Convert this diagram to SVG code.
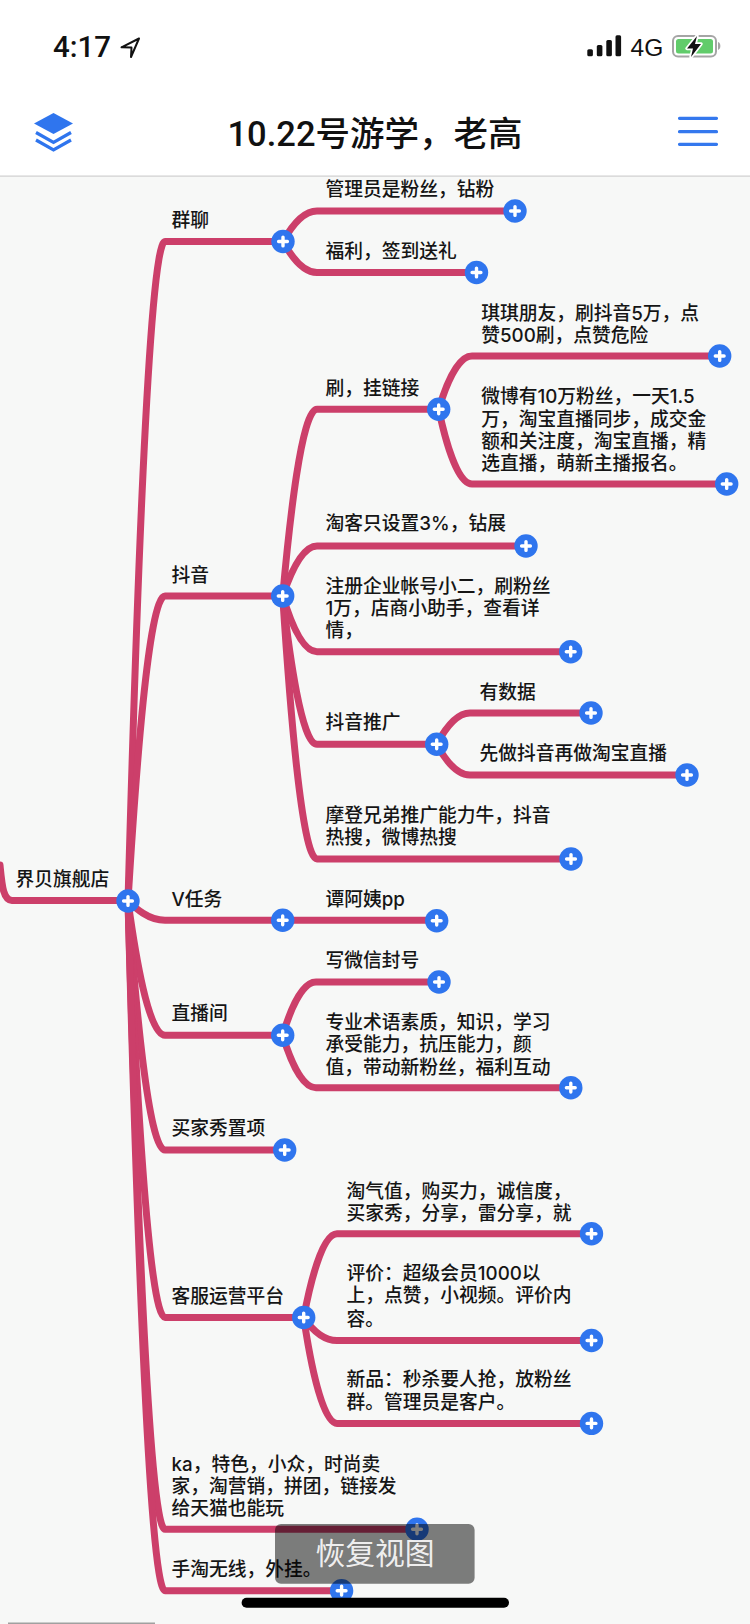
<svg xmlns="http://www.w3.org/2000/svg" width="750" height="1624" viewBox="0 0 750 1624">
<style>
.t{font-family:"Inter","Noto Sans CJK SC",sans-serif;font-size:18.75px;font-weight:500;fill:#151515}
.l{fill:none;stroke:#cc3f6a;stroke-width:7;stroke-linecap:round;stroke-linejoin:round}
.b{fill:#2f75ee}
.h{fill:none;stroke:#3478ee;stroke-width:3.2;stroke-linecap:round}
</style>
<defs>
<g id="plus"><circle r="11.7" fill="#2f75ee"/><path d="M-4.4 0H4.4M0-4.400V4.400" stroke="#fff" stroke-width="3.400" stroke-linecap="round" fill="none"/></g>
</defs>
<rect width="750" height="1624" fill="#f7f8f7"/>
<rect width="750" height="176" fill="#fff"/>
<rect y="175.500" width="750" height="1.200" fill="#cfcfcf"/>
<g id="status">
<text x="53" y="56.700" font-family="Roboto,sans-serif" font-size="29.500" font-weight="500" fill="#111">4:17</text>
<path d="M139 38.500L121.500 47.300L131.500 47.600L131 57Z" fill="#fff" stroke="#111" stroke-width="2" stroke-linejoin="round"/>
<rect x="587.300" y="49.300" width="5.600" height="6.900" rx="1.500" fill="#111"/>
<rect x="596.800" y="45" width="5.600" height="11.200" rx="1.500" fill="#111"/>
<rect x="606.300" y="40" width="5.600" height="16.200" rx="1.500" fill="#111"/>
<rect x="615.500" y="35.300" width="5.600" height="20.900" rx="1.500" fill="#111"/>
<text x="630.500" y="56" font-family="Liberation Sans,sans-serif" font-size="24.500" fill="#111">4G</text>
<rect x="673" y="36" width="43" height="20.400" rx="5" fill="#fff" stroke="#a5a5a5" stroke-width="2"/>
<rect x="676" y="39" width="37" height="14.400" rx="2.500" fill="#61cc6b"/>
<path d="M718 42v8c1.600-.6 2.400-2.200 2.400-4s-.8-3.400-2.400-4Z" fill="#a5a5a5"/>
<path d="M697 36L687 48.500H693L691 57L701 44H695Z" fill="#fff" stroke="#fff" stroke-width="3.500" stroke-linejoin="round"/>
<path d="M697 36L687 48.500H693L691 57L701 44H695Z" fill="#111"/>
</g>
<g id="header">
<path class="b" d="M53.500 113L73 123.500L53.500 134L34 123.500Z"/>
<path d="M36 132.500L53.500 142.500L71 132.500M36 140L53.500 150L71 140" fill="none" stroke="#2f75ee" stroke-width="3.200"/>
<text x="375" y="146" text-anchor="middle" font-family="Roboto,&quot;Noto Sans CJK SC&quot;,sans-serif" font-size="34.500" font-weight="500" fill="#111">10.22号游学，老高</text>
<path class="h" d="M679.500 118.300H716.500M679.500 131.700H716.500M679.500 144.300H716.500"/>
</g>
<g id="connectors">
<path class="l" d="M0 865C2 885 3 900 12 900.500H128"/>
<path class="l" d="M128 901C135.400 637 148.400 241.500 165 241.500H283"/>
<path class="l" d="M128 901C135.400 779 148.400 596 165 596H283"/>
<path class="l" d="M128 901C135.400 908 148.400 920.300 165 920.300H436.700"/>
<path class="l" d="M128 901C135.400 954.700 148.400 1035.300 165 1035.300H283"/>
<path class="l" d="M128 901C135.400 1000.600 148.400 1150 165 1150H285"/>
<path class="l" d="M128 901C135.400 1067.600 148.400 1317.500 165 1317.500H304"/>
<path class="l" d="M128 901C135.400 1152.300 148.400 1529.300 165 1529.300H417"/>
<path class="l" d="M128 901C135.400 1176.900 148.400 1590.700 165 1590.700H342"/>
<path class="l" d="M283 241.500C289.800 229.300 301.700 211 317 211H515"/>
<path class="l" d="M283 241.500C289.800 253.900 301.700 272.500 317 272.500H476.500"/>
<path class="l" d="M282.700 596C289.500 521.300 301.600 409.300 317 409.300H438.700"/>
<path class="l" d="M282.700 596C289.500 576 301.600 546 317 546H526"/>
<path class="l" d="M282.700 596C289.500 618.300 301.600 651.700 317 651.700H570.700"/>
<path class="l" d="M282.700 596C289.500 655.300 301.600 744.300 317 744.300H436.700"/>
<path class="l" d="M282.700 596C289.500 701.200 301.600 859 317 859H571"/>
<path class="l" d="M438.700 409.300C445 388 457 356 472 356H719.700"/>
<path class="l" d="M438.700 409.300C445 439.200 457 484 472 484H726.700"/>
<path class="l" d="M436.700 744.300C443.400 731.800 455 713 470 713H591"/>
<path class="l" d="M436.700 744.300C443.400 756.600 455 775 470 775H687"/>
<path class="l" d="M282.700 1035.300C289 1014 301 982 316 982H439"/>
<path class="l" d="M282.700 1035.300C289 1056.300 301 1087.700 316 1087.700H570.800"/>
<path class="l" d="M303.700 1317.500C310 1284 322 1233.800 337 1233.800H591.500"/>
<path class="l" d="M303.700 1317.500C310 1326.700 322 1340.500 337 1340.500H591.500"/>
<path class="l" d="M303.700 1317.500C310 1360 322 1423.400 337 1423.400H591.500"/>
</g>
<g id="root"><text class="t" x="15.500" y="885.700">界贝旗舰店</text><use href="#plus" x="128" y="901"/></g>
<g id="qunliao"><text class="t" x="171.500" y="227">群聊</text><use href="#plus" x="283" y="241.500"/></g>
<g id="guanliyuan"><text class="t" x="325.500" y="196">管理员是粉丝，钻粉</text><use href="#plus" x="515" y="211"/></g>
<g id="fuli"><text class="t" x="325.500" y="258">福利，签到送礼</text><use href="#plus" x="476.500" y="272.500"/></g>
<g id="douyin"><text class="t" x="171.500" y="581.500">抖音</text><use href="#plus" x="282.700" y="596"/></g>
<g id="shua"><text class="t" x="325.500" y="394.700">刷，挂链接</text><use href="#plus" x="438.700" y="409.300"/></g>
<g id="qiqi"><text class="t" x="481.200" y="320">琪琪朋友，刷抖音5万，点</text><text class="t" x="481.200" y="341.500">赞500刷，点赞危险</text><use href="#plus" x="719.700" y="356"/></g>
<g id="weibo"><text class="t" x="481.200" y="403">微博有10万粉丝，一天1.5</text><text class="t" x="481.200" y="425.500">万，淘宝直播同步，成交金</text><text class="t" x="481.200" y="447.500">额和关注度，淘宝直播，精</text><text class="t" x="481.200" y="470">选直播，萌新主播报名。</text><use href="#plus" x="726.700" y="484"/></g>
<g id="taoke"><text class="t" x="325.500" y="530.400">淘客只设置3%，钻展</text><use href="#plus" x="526" y="546"/></g>
<g id="zhuce"><text class="t" x="325.500" y="592.500">注册企业帐号小二，刷粉丝</text><text class="t" x="325.500" y="615">1万，店商小助手，查看详</text><text class="t" x="325.500" y="637">情，</text><use href="#plus" x="570.700" y="651.700"/></g>
<g id="tuiguang"><text class="t" x="325.500" y="729">抖音推广</text><use href="#plus" x="436.700" y="744.300"/></g>
<g id="youshuju"><text class="t" x="479.500" y="698.500">有数据</text><use href="#plus" x="591" y="713"/></g>
<g id="xianzuo"><text class="t" x="479.500" y="760.400">先做抖音再做淘宝直播</text><use href="#plus" x="687" y="775"/></g>
<g id="modeng"><text class="t" x="325.500" y="822">摩登兄弟推广能力牛，抖音</text><text class="t" x="325.500" y="844">热搜，微博热搜</text><use href="#plus" x="571" y="859"/></g>
<g id="vrenwu"><text class="t" x="171.500" y="905.700">V任务</text><use href="#plus" x="282.700" y="920.300"/></g>
<g id="tanayi"><text class="t" x="325.500" y="905.700">谭阿姨pp</text><use href="#plus" x="436.700" y="920.700"/></g>
<g id="zhibo"><text class="t" x="171.500" y="1020.400">直播间</text><use href="#plus" x="282.700" y="1035.300"/></g>
<g id="xieweixin"><text class="t" x="325.500" y="967">写微信封号</text><use href="#plus" x="439" y="982"/></g>
<g id="zhuanye"><text class="t" x="325.500" y="1029">专业术语素质，知识，学习</text><text class="t" x="325.500" y="1051.400">承受能力，抗压能力，颜</text><text class="t" x="325.500" y="1073.700">值，带动新粉丝，福利互动</text><use href="#plus" x="570.800" y="1087.700"/></g>
<g id="maijia"><text class="t" x="171.500" y="1134.700">买家秀置项</text><use href="#plus" x="284.700" y="1150"/></g>
<g id="kefu"><text class="t" x="171.500" y="1303.400">客服运营平台</text><use href="#plus" x="303.700" y="1317.500"/></g>
<g id="taoqi"><text class="t" x="346.500" y="1197.700">淘气值，购买力，诚信度，</text><text class="t" x="346.500" y="1219.700">买家秀，分享，雷分享，就</text><use href="#plus" x="591.500" y="1233.800"/></g>
<g id="pingjia"><text class="t" x="346.500" y="1279.500">评价：超级会员1000以</text><text class="t" x="346.500" y="1302">上，点赞，小视频。评价内</text><text class="t" x="346.500" y="1326">容。</text><use href="#plus" x="591.500" y="1340.500"/></g>
<g id="xinpin"><text class="t" x="346.500" y="1386">新品：秒杀要人抢，放粉丝</text><text class="t" x="346.500" y="1409">群。管理员是客户。</text><use href="#plus" x="591.500" y="1423.400"/></g>
<g id="ka"><text class="t" x="171.500" y="1471.400">ka，特色，小众，时尚卖</text><text class="t" x="171.500" y="1493">家，淘营销，拼团，链接发</text><text class="t" x="171.500" y="1515.400">给天猫也能玩</text><use href="#plus" x="417" y="1529.300"/></g>
<g id="shoutao"><text class="t" x="171.500" y="1576.400">手淘无线，外挂。</text><use href="#plus" x="341.600" y="1590.700"/></g>
<g id="overlay">
<rect x="275" y="1524" width="199.600" height="59.700" rx="6" fill="#000" fill-opacity=".5"/>
<text x="375" y="1564" text-anchor="middle" font-family="Noto Sans CJK SC,sans-serif" font-size="29.800" fill="#fff" fill-opacity=".9">恢复视图</text>
</g>
<rect id="home-bar" x="241.600" y="1597.700" width="267.400" height="10" rx="5" fill="#000"/>
<rect id="edge" x="8" y="1622.500" width="147" height="1.500" fill="#a0a0a0"/>
</svg>
